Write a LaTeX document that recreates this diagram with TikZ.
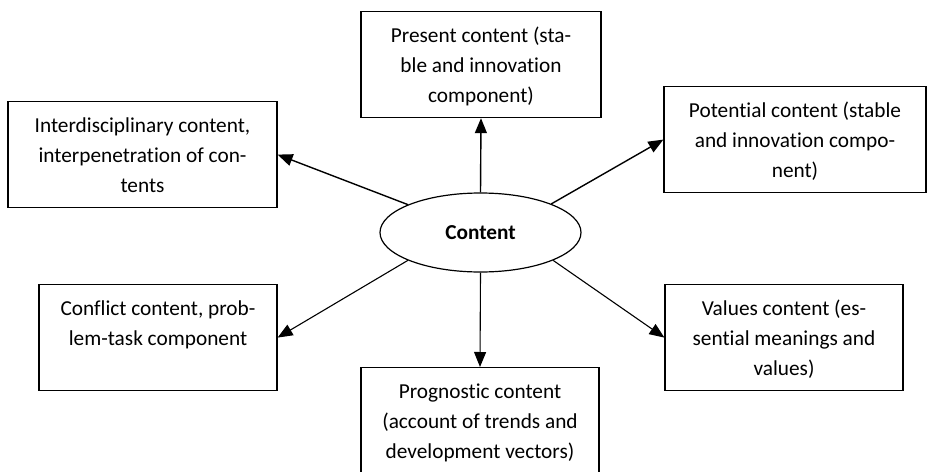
\documentclass[tikz,border=0pt]{standalone}
\usepackage{fontspec}
\setmainfont{Carlito}[Ligatures={NoCommon}]
\usetikzlibrary{arrows.meta,shapes.geometric}

% text inside a box: fixed height, set from the top
\newcommand{\boxtext}[2]{\parbox[c][106pt][t]{#1}{\centering\rule{0pt}{31pt}#2}}

\begin{document}
\begin{tikzpicture}[
  x=1pt, y=-1pt,
  font=\fontsize{21.3}{29.8}\selectfont,
  >={Triangle[length=15pt,width=12pt]},
  box/.style={rectangle, draw=black, line width=1.2pt, inner sep=0pt, anchor=north},
  hub/.style={ellipse, draw=black, line width=1.2pt, minimum width=201pt,
              minimum height=79pt, inner sep=0pt,
              font=\fontsize{21.3}{24}\selectfont\bfseries},
  flow/.style={->, draw=black, line width=1.4pt},
  thin flow/.style={flow, line width=1.1pt},
]
\useasboundingbox (0,0) rectangle (928,471);

% centre
\node[hub] (content) at (480.5,232.5) {Content};

% upper row
\node[box] (present) at (481,11)
  {\boxtext{240pt}{Present content (sta-\\ble and innovation\\component)}};
\node[box] (inter) at (142.5,101)
  {\boxtext{269pt}{Interdisciplinary content,\\interpenetration of con-\\tents}};
\node[box] (potential) at (795,86)
  {\boxtext{262pt}{Potential content (stable\\and innovation compo-\\nent)}};

% lower row
\node[box] (conflict) at (158,284)
  {\boxtext{238pt}{Conflict content, prob-\\lem-task component}};
\node[box] (values) at (784,284)
  {\boxtext{238pt}{Values content (es-\\sential meanings and\\values)}};
\node[box] (prog) at (480,367)
  {\boxtext{238pt}{Prognostic content\\(account of trends and\\development vectors)}};

\draw[flow] (content.north) -- (present.south);
\draw[flow] (content.159) -- (inter.east);
\draw[flow] (content.22) -- (potential.west);
\draw[thin flow] (content.201) -- (conflict.east);
\draw[thin flow] (content.339) -- (values.west);
\draw[thin flow] (content.south) -- (prog.north);
\end{tikzpicture}
\end{document}
